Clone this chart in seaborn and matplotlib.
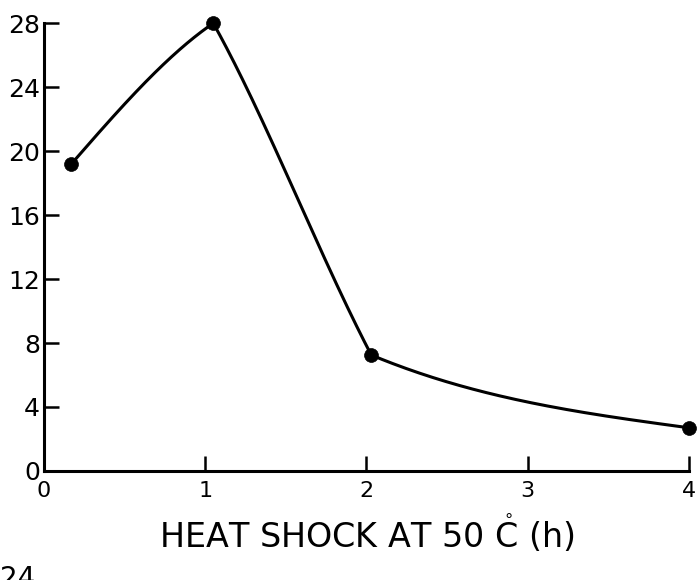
import numpy as np
import pandas as pd
import matplotlib
matplotlib.use("Agg")
import matplotlib.pyplot as plt
import seaborn as sns

# ---- data ----
hours = [0.17, 1.05, 2.03, 4.0]
values = [19.2, 28.0, 7.25, 2.7]
x_ticks = [0, 1, 2, 3, 4]
y_ticks = [0, 4, 8, 12, 16, 20, 24, 28]
x_label = r"HEAT SHOCK AT 50 $\mathring{\mathrm{C}}$ (h)"


def hand_curve(x, y, n=120, own=0.9):
    """Hand-drawn style line through the measured points: one cubic Hermite
    piece per interval, with one-sided end slopes (drawing only)."""
    x = np.asarray(x, float)
    y = np.asarray(y, float)
    h = np.diff(x)
    d = np.diff(y) / h
    nseg = len(d)
    xs_all, ys_all = [], []
    m_start = np.zeros(nseg)
    m_end = np.zeros(nseg)
    for k in range(nseg):
        if k > 0:
            m_start[k] = own * d[k] + (1 - own) * d[k - 1]
        if k < nseg - 1:
            m_end[k] = own * d[k] + (1 - own) * d[k + 1]
    m_start[0] = d[0] + 0.5 * (d[0] - m_end[0])
    m_end[-1] = d[-1] + 0.5 * (d[-1] - m_start[-1])
    for k in range(nseg):
        t = np.linspace(0, 1, n)
        h00 = 2 * t**3 - 3 * t**2 + 1
        h10 = t**3 - 2 * t**2 + t
        h01 = -2 * t**3 + 3 * t**2
        h11 = t**3 - t**2
        xs = x[k] + t * h[k]
        ys = h00 * y[k] + h10 * h[k] * m_start[k] + h01 * y[k + 1] + h11 * h[k] * m_end[k]
        xs_all.append(xs)
        ys_all.append(ys)
    return np.concatenate(xs_all), np.concatenate(ys_all)


sns.set_theme(style="ticks")
plt.rcParams["font.family"] = ["DejaVu Sans"]

fig = plt.figure(figsize=(6.98, 5.80), dpi=100)
ax = fig.add_axes([0.063, 0.188, 0.924, 0.772])

pts = pd.DataFrame({"hours": hours, "value": values})
cx, cy = hand_curve(hours, values)
curve = pd.DataFrame({"hours": cx, "value": cy})

sns.lineplot(data=curve, x="hours", y="value", ax=ax, color="black",
             linewidth=2.2, sort=False, estimator=None)
sns.scatterplot(data=pts, x="hours", y="value", ax=ax, color="black",
                s=100, edgecolor="black", linewidth=0.5, zorder=5, clip_on=False)

ax.set_xlim(0, 4)
ax.set_ylim(0, 28)
ax.set_xticks(x_ticks)
ax.set_yticks(y_ticks)
ax.set_xticklabels([str(v) for v in x_ticks], fontsize=16)
ax.set_yticklabels([str(v) for v in y_ticks], fontsize=18)
ax.tick_params(axis="both", direction="in", length=11, width=1.8, color="black",
               labelcolor="black")
ax.tick_params(axis="y", pad=3)
ax.tick_params(axis="x", pad=7)

for side in ["top", "right"]:
    ax.spines[side].set_visible(False)
for side in ["left", "bottom"]:
    ax.spines[side].set_linewidth(2.2)
    ax.spines[side].set_color("black")

ax.set_xlabel(x_label, fontsize=24, labelpad=9, color="black")
ax.set_ylabel("")

fig.text(0.0, -0.022, "24", fontsize=20, color="black", ha="left", va="bottom")

fig.savefig("out.png", dpi=100, facecolor="white")
